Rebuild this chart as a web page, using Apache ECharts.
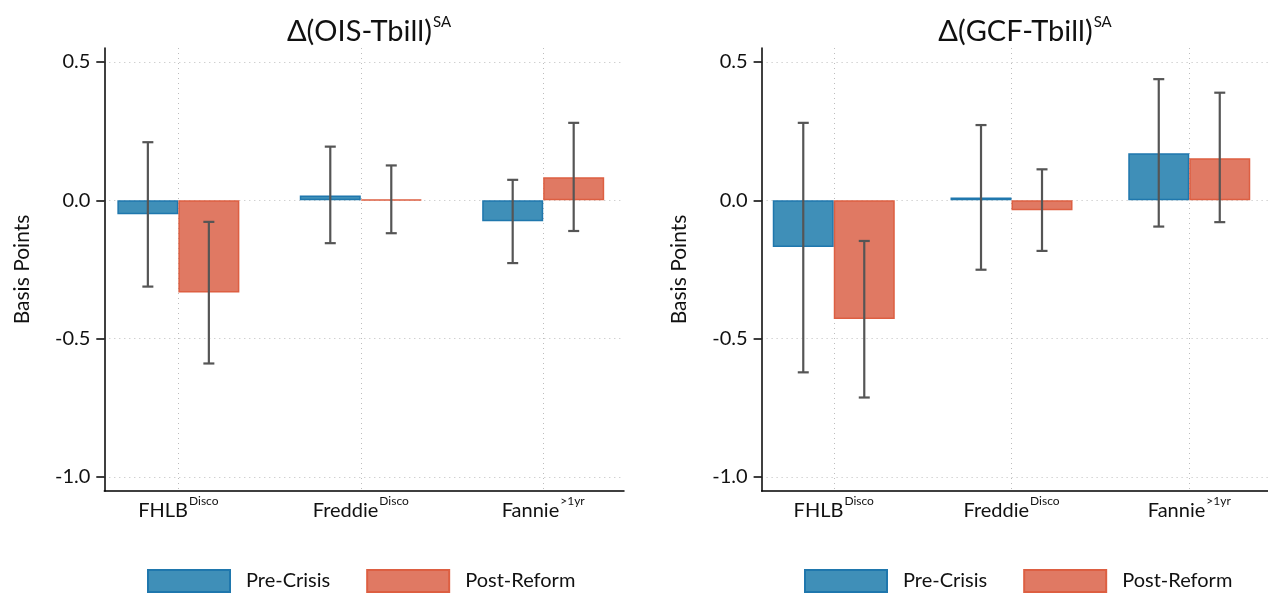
<!DOCTYPE html>
<html>
<head>
<meta charset="utf-8">
<script src="https://cdn.jsdelivr.net/npm/echarts@6/dist/echarts.min.js"></script>
<style>
html,body{margin:0;padding:0;background:#fff;}
#chart{width:1268px;height:596px;}
</style>
</head>
<body>
<div id="chart"></div>
<script>
// ---- data ----
const categories = ['FHLB', 'Freddie', 'Fannie'];
const catSup = ['Disco', 'Disco', '>1yr'];
const yTicks = [-1.0, -0.5, 0.0, 0.5];
const seriesNames = ['Pre-Crisis', 'Post-Reform'];

const oisPre = [-0.050, 0.017, -0.076];
const oisPreLo = [-0.312, -0.155, -0.227];
const oisPreHi = [0.210, 0.194, 0.074];
const oisPost = [-0.333, 0.003, 0.083];
const oisPostLo = [-0.590, -0.119, -0.111];
const oisPostHi = [-0.078, 0.126, 0.280];

const gcfPre = [-0.169, 0.010, 0.170];
const gcfPreLo = [-0.622, -0.251, -0.095];
const gcfPreHi = [0.280, 0.272, 0.438];
const gcfPost = [-0.429, -0.036, 0.152];
const gcfPostLo = [-0.713, -0.183, -0.079];
const gcfPostHi = [-0.147, 0.112, 0.389];

// ---- styles ----
const FONT = 'Lato';
const BLUE = '#3f8fb8', BLUE_B = '#1f77ad';
const ORANGE = '#e07963', ORANGE_B = '#dd5f42';
const BAR_W = 61;
const catPos = categories.map((c, i) => i + 1);

const chart = echarts.init(document.getElementById('chart'));

function barData(vals) { return vals.map((v, i) => [catPos[i], v]); }
function errData(lo, hi, side) { return lo.map((l, i) => [catPos[i], l, hi[i], side]); }

function errRender(params, api) {
  const side = api.value(3);
  const top = api.coord([api.value(0), api.value(2)]);
  const bot = api.coord([api.value(0), api.value(1)]);
  const x = top[0] + side * BAR_W / 2;
  const cap = 5.5;
  const style = { stroke: '#555555', lineWidth: 2.2 };
  return { type: 'group', children: [
    { type: 'line', shape: { x1: x, y1: top[1], x2: x, y2: bot[1] }, style: style },
    { type: 'line', shape: { x1: x - cap, y1: top[1], x2: x + cap, y2: top[1] }, style: style },
    { type: 'line', shape: { x1: x - cap, y1: bot[1], x2: x + cap, y2: bot[1] }, style: style }
  ]};
}

function xAxisCfg(gi) {
  return {
    type: 'value', gridIndex: gi, min: 0.594, max: 3.443,
    axisLine: { show: true, onZero: false, lineStyle: { color: '#000', width: 1.5 } },
    axisTick: { show: false, customValues: catPos },
    splitLine: { show: true, lineStyle: { color: '#bdbdbd', type: [1, 4], width: 1 } },
    axisLabel: {
      customValues: catPos, margin: 4,
      formatter: v => { const i = Math.round(v) - 1; return '{m|' + categories[i] + '}{s|' + catSup[i] + '}'; },
      rich: {
        m: { fontFamily: FONT, fontSize: 20, color: '#111', verticalAlign: 'bottom', lineHeight: 26 },
        s: { fontFamily: FONT, fontSize: 12, color: '#111', verticalAlign: 'top', lineHeight: 26, padding: [0, 0, 0, 1] }
      }
    }
  };
}
function yAxisCfg(gi) {
  return {
    type: 'value', gridIndex: gi, min: -1.051, max: 0.5506,
    name: 'Basis Points', nameLocation: 'middle', nameRotate: 90, nameGap: 72,
    nameTextStyle: { fontFamily: FONT, fontSize: 21, color: '#111' },
    axisLine: { show: true, onZero: false, lineStyle: { color: '#000', width: 1.5 } },
    axisTick: { show: true, inside: false, length: 8, customValues: yTicks, lineStyle: { color: '#000', width: 1.5 } },
    splitLine: { show: true, lineStyle: { color: '#bdbdbd', type: [1, 4], width: 1 } },
    axisLabel: { customValues: yTicks, margin: 14, fontFamily: FONT, fontSize: 20, color: '#111',
      formatter: v => v.toFixed(1) }
  };
}
function barSeries(name, vals, gi, color, border) {
  return {
    name: name, type: 'bar', xAxisIndex: gi, yAxisIndex: gi,
    data: barData(vals), barWidth: BAR_W, barGap: '0%', z: 2,
    itemStyle: { color: color, borderColor: border, borderWidth: 1.5 },
    emphasis: { disabled: true }
  };
}
function errSeries(lo, hi, side, gi) {
  return {
    type: 'custom', xAxisIndex: gi, yAxisIndex: gi, z: 5,
    data: errData(lo, hi, side), encode: { x: 0, y: [1, 2] },
    renderItem: errRender, silent: true
  };
}
function titleCfg(main, left) {
  return {
    text: '{m|' + main + '}{s|SA}', left: left, top: 7, textAlign: 'center',
    textStyle: { rich: {
      m: { fontFamily: FONT, fontSize: 29, fontWeight: 'normal', color: '#111', verticalAlign: 'bottom', lineHeight: 34 },
      s: { fontFamily: FONT, fontSize: 15, fontWeight: 'normal', color: '#111', verticalAlign: 'top', lineHeight: 34, padding: [3, 0, 0, 1] }
    } }
  };
}
function legendCfg(left) {
  return {
    left: left, top: 569, padding: 0, icon: 'rect', itemWidth: 82, itemHeight: 22, itemGap: 36,
    data: seriesNames,
    textStyle: { fontFamily: FONT, fontSize: 20, color: '#111', padding: [6, 0, 0, 11] }
  };
}

chart.setOption({
  animation: false,
  backgroundColor: '#fff',
  title: [titleCfg('Δ(OIS-Tbill)', 364), titleCfg('Δ(GCF-Tbill)', 1020)],
  legend: [legendCfg(147), legendCfg(804)],
  grid: [
    { left: 104.3, top: 48, width: 519.7, height: 443 },
    { left: 761.6, top: 48, width: 527, height: 443 }
  ],
  xAxis: [xAxisCfg(0), xAxisCfg(1)],
  yAxis: [yAxisCfg(0), yAxisCfg(1)],
  series: [
    barSeries(seriesNames[0], oisPre, 0, BLUE, BLUE_B),
    barSeries(seriesNames[1], oisPost, 0, ORANGE, ORANGE_B),
    errSeries(oisPreLo, oisPreHi, -1, 0),
    errSeries(oisPostLo, oisPostHi, 1, 0),
    barSeries(seriesNames[0], gcfPre, 1, BLUE, BLUE_B),
    barSeries(seriesNames[1], gcfPost, 1, ORANGE, ORANGE_B),
    errSeries(gcfPreLo, gcfPreHi, -1, 1),
    errSeries(gcfPostLo, gcfPostHi, 1, 1)
  ]
});
</script>
</body>
</html>
